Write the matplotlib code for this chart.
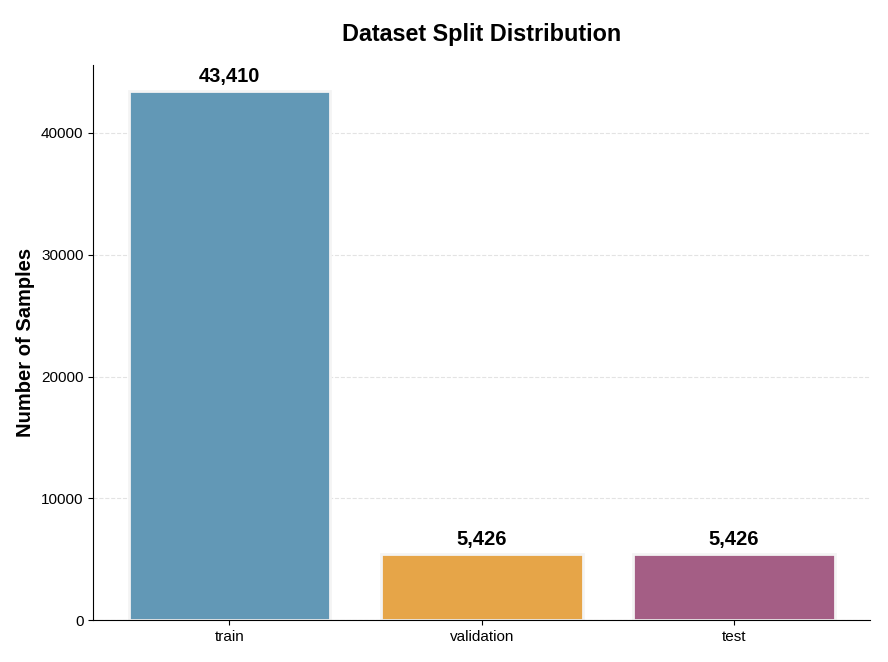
import matplotlib
matplotlib.use("Agg")
import matplotlib.pyplot as plt

splits = ["train", "validation", "test"]
counts = [43410, 5426, 5426]
colors = ["#6298B6", "#E6A548", "#A45E85"]

plt.rcParams['font.family'] = ['Liberation Sans', 'DejaVu Sans']

fig, ax = plt.subplots(figsize=(8.88, 6.62), dpi=100)
bars = ax.bar(splits, counts, color=colors, edgecolor="#F4F4F4", linewidth=2, width=0.8)
for b, c in zip(bars, counts):
    ax.text(b.get_x() + b.get_width() / 2, b.get_height() + max(counts) * 0.01, f"{c:,}",
            ha="center", va="bottom", fontsize=14.5, fontweight="bold")
ax.set_ylim(0, max(counts) * 1.05)
ax.set_ylabel("Number of Samples", fontsize=14.5, fontweight="bold")
ax.set_title("Dataset Split Distribution", fontsize=16.8, fontweight="bold", pad=17)
ax.grid(axis="y", alpha=0.35, linestyle="--")
ax.set_axisbelow(True)
ax.spines["top"].set_visible(False)
ax.spines["right"].set_visible(False)
ax.tick_params(labelsize=11)
fig.subplots_adjust(left=0.105, right=0.98, bottom=0.063, top=0.902)
fig.savefig("out.png", dpi=100)
